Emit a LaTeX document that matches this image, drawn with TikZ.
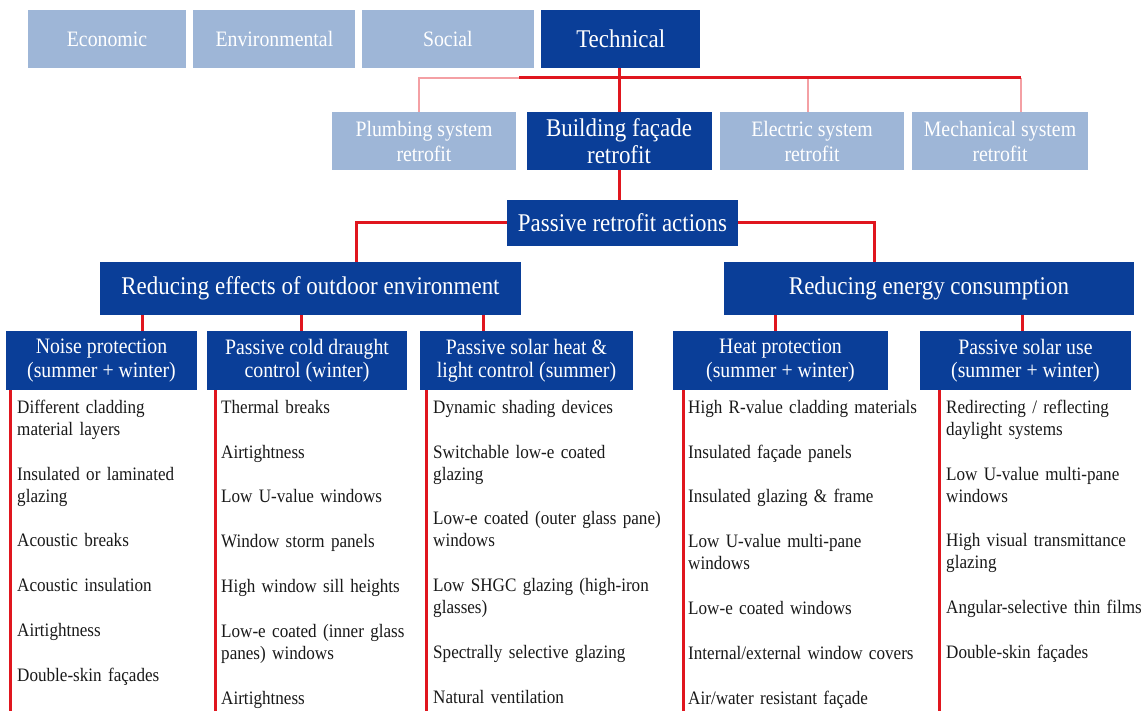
\documentclass[tikz,border=0pt]{standalone}
\usepackage{fontspec}
\setmainfont[FakeStretch=0.9]{Liberation Serif}
\usetikzlibrary{positioning}
\definecolor{facadeblue}{RGB}{10,62,152}
\definecolor{paleblue}{RGB}{158,182,215}
\definecolor{linkred}{RGB}{224,22,30}
\definecolor{linkpink}{RGB}{244,160,164}
\definecolor{itemblack}{RGB}{25,25,25}
\tikzset {
  box/.style = {
    rectangle,
    inner sep = 0,
    align = center,
    text = white
  },
  % main (dark) boxes
  dark/.style = {
    box,
    fill = facadeblue,
    font = \fontsize{25.5}{27}\selectfont
  },
  % boxes of the branches that are not followed
  pale/.style = {
    box,
    fill = paleblue,
    font = \fontsize{22}{25}\selectfont
  },
  % measure group
  group/.style = {
    dark,
    minimum height = 59pt,
    font = \fontsize{22}{23.5}\selectfont
  },
  % one retrofit measure of a list
  measure/.style = {
    anchor = north west,
    inner sep = 0,
    text width = 240pt,
    align = left,
    text = itemblack,
    font = \fontsize{19}{22}\selectfont,
    execute at begin node = \strut,
    execute at end node = \strut
  }
}
\tikzset {
  link/.style = {
    draw = linkred,
    line width = 3pt
  },
  faint/.style = {
    draw = linkpink,
    line width = 2.5pt
  },
  rail/.style = {
    link
  }
}

\begin{document}
\begin{tikzpicture}[x=1pt, y=-1pt, node distance=22.4pt]
    \useasboundingbox (0,0) rectangle (1147,711);

    % retrofit dimensions
    \node[pale, minimum width=158pt, minimum height=58pt] (economic) at (107,39) {Economic};
    \node[pale, minimum width=162pt, minimum height=58pt] (environmental) [right=7pt of economic] {Environmental};
    \node[pale, minimum width=172pt, minimum height=58pt] (social) [right=6pt of environmental] {Social};
    \node[dark, minimum width=159pt, minimum height=58pt] (technical) [right=7pt of social] {Technical};

    % technical retrofit fields
    \node[pale, minimum width=184pt, minimum height=58pt] (plumbing) at (424,141) {Plumbing system\\retrofit};
    \node[dark, minimum width=185pt, minimum height=58pt] (facade) at (619,141) {Building façade\\retrofit};
    \node[pale, minimum width=184pt, minimum height=58pt] (electric) at (812,141) {Electric system\\retrofit};
    \node[pale, minimum width=176pt, minimum height=58pt] (mechanical) at (1000,141) {Mechanical system\\retrofit};

    \node[dark, minimum width=231pt, minimum height=46pt] (passive) at (622.5,223) {Passive retrofit actions};
    \node[dark, minimum width=421pt, minimum height=53pt] (effects) at (310.5,288.5) {Reducing effects of outdoor environment};
    \node[dark, minimum width=410pt, minimum height=53pt] (energy) at (929,288.5) {Reducing energy consumption};

    % groups of measures
    \node[group, minimum width=191pt] (noise) at (101.5,360.5) {Noise protection\\(summer + winter)};
    \node[group, minimum width=200pt] (draught) at (307,360.5) {Passive cold draught\\control (winter)};
    \node[group, minimum width=213pt] (solarheat) at (526.5,360.5) {Passive solar heat \&\\light control (summer)};
    \node[group, minimum width=215pt] (heat) at (780.5,360.5) {Heat protection\\(summer + winter)};
    \node[group, minimum width=211pt] (solaruse) at (1025.5,360.5) {Passive solar use\\(summer + winter)};

    % connectors
    \coordinate (bus-plumbing) at (419,78);
    \coordinate (bus-split) at (519,78);
    \coordinate (bus-electric) at (808,78);
    \coordinate (bus-mechanical) at (1021,78);
    \coordinate (effects-hub) at (356,223);
    \coordinate (energy-hub) at (874,223);

    \draw[faint] (bus-plumbing |- plumbing.north)
    -- (bus-plumbing)
    -- (bus-split);
    \draw[faint] (bus-electric) -- (bus-electric |- electric.north);
    \draw[faint] (bus-mechanical) -- (bus-mechanical |- mechanical.north);
    \draw[link] (bus-split) -- (bus-mechanical);
    \draw[link] (technical.south -| facade.north) -- (facade.north);
    \draw[link] (facade.south) -- (facade.south |- passive.north);

    \draw[link] (passive.west)
    -- (effects-hub)
    -- (effects-hub |- effects.north);
    \draw[link] (passive.east)
    -- (energy-hub)
    -- (energy-hub |- energy.north);

    \draw[link] (142,315) -- (142,0 |- noise.north);
    \draw[link] (301,315) -- (301,0 |- draught.north);
    \draw[link] (483,315) -- (483,0 |- solarheat.north);
    \draw[link] (775,315) -- (775,0 |- heat.north);
    \draw[link] (1022,315) -- (1022,0 |- solaruse.north);

    % rails of the lists
    \draw[rail] (10,0 |- noise.south) -- (10,711);
    \draw[rail] (215,0 |- draught.south) -- (215,711);
    \draw[rail] (426,0 |- solarheat.south) -- (426,711);
    \draw[rail] (683,0 |- heat.south) -- (683,711);
    \draw[rail] (939,0 |- solaruse.south) -- (939,711);

    % noise protection
    \node[measure] (noise-1) at (17,397.6) {Different cladding\\material layers};
    \node[measure] (noise-2) [below=of noise-1] {Insulated or laminated\\glazing};
    \node[measure] (noise-3) [below=of noise-2] {Acoustic breaks};
    \node[measure] (noise-4) [below=of noise-3] {Acoustic insulation};
    \node[measure] (noise-5) [below=of noise-4] {Airtightness};
    \node[measure] (noise-6) [below=of noise-5] {Double-skin façades};

    % cold draught control
    \node[measure] (draught-1) at (221,397.6) {Thermal breaks};
    \node[measure] (draught-2) [below=of draught-1] {Airtightness};
    \node[measure] (draught-3) [below=of draught-2] {Low U-value windows};
    \node[measure] (draught-4) [below=of draught-3] {Window storm panels};
    \node[measure] (draught-5) [below=of draught-4] {High window sill heights};
    \node[measure] (draught-6) [below=of draught-5] {Low-e coated (inner glass\\panes) windows};
    \node[measure] (draught-7) [below=of draught-6] {Airtightness};

    % solar heat and light control
    \node[measure] (solarheat-1) at (433,397.6) {Dynamic shading devices};
    \node[measure] (solarheat-2) [below=of solarheat-1] {Switchable low-e coated\\glazing};
    \node[measure] (solarheat-3) [below=of solarheat-2] {Low-e coated (outer glass pane)\\windows};
    \node[measure] (solarheat-4) [below=of solarheat-3] {Low SHGC glazing (high-iron\\glasses)};
    \node[measure] (solarheat-5) [below=of solarheat-4] {Spectrally selective glazing};
    \node[measure] (solarheat-6) [below=of solarheat-5] {Natural ventilation};

    % heat protection
    \node[measure] (heat-1) at (688,397.6) {High R-value cladding materials};
    \node[measure] (heat-2) [below=of heat-1] {Insulated façade panels};
    \node[measure] (heat-3) [below=of heat-2] {Insulated glazing \& frame};
    \node[measure] (heat-4) [below=of heat-3] {Low U-value multi-pane\\windows};
    \node[measure] (heat-5) [below=of heat-4] {Low-e coated windows};
    \node[measure] (heat-6) [below=of heat-5] {Internal/external window covers};
    \node[measure] (heat-7) [below=of heat-6] {Air/water resistant façade};

    % passive solar use
    \node[measure] (solaruse-1) at (946,397.6) {Redirecting / reflecting\\daylight systems};
    \node[measure] (solaruse-2) [below=of solaruse-1] {Low U-value multi-pane\\windows};
    \node[measure] (solaruse-3) [below=of solaruse-2] {High visual transmittance\\glazing};
    \node[measure] (solaruse-4) [below=of solaruse-3] {Angular-selective thin films};
    \node[measure] (solaruse-5) [below=of solaruse-4] {Double-skin façades};
\end{tikzpicture}
\end{document}
